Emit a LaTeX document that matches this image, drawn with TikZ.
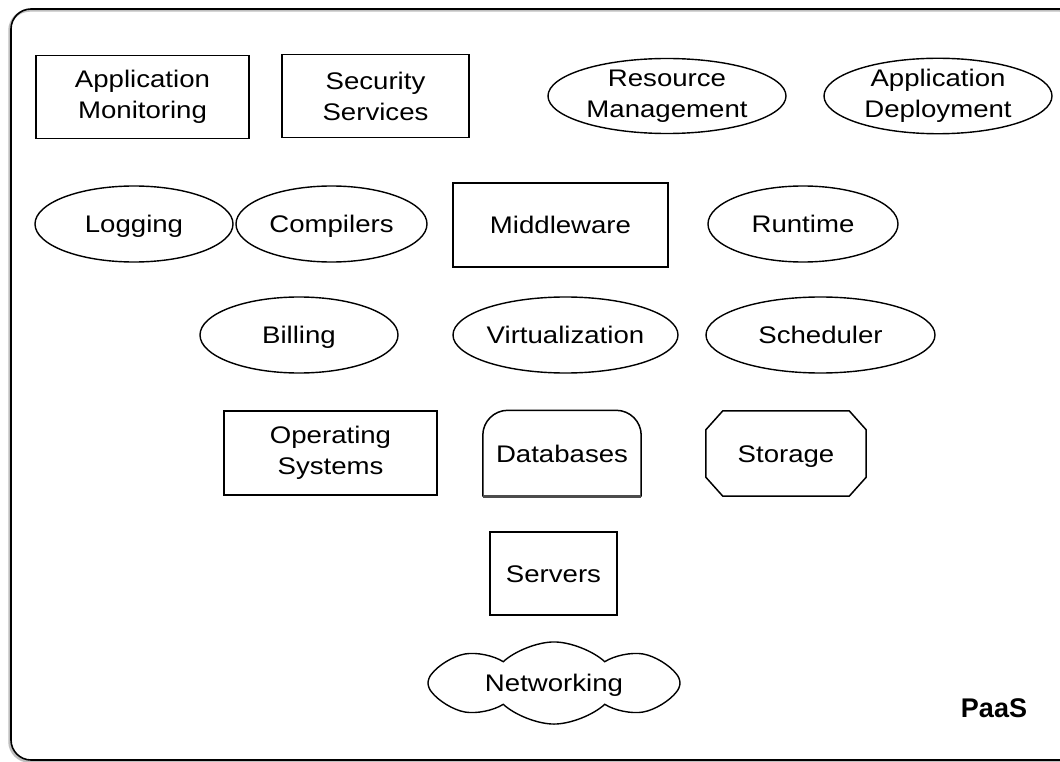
\documentclass[tikz,border=0pt]{standalone}
\usepackage{fontspec}
\setmainfont{Liberation Sans}[FakeStretch=1.15]
\newfontfamily\paasfont{Liberation Sans}
\usepackage{tikz}
\usetikzlibrary{shapes.geometric, shapes.symbols}

\begin{document}
\begin{tikzpicture}[
    x=1pt, y=-1pt,
    every node/.style={font=\fontsize{24}{31}\selectfont, align=center, inner sep=0pt},
    box/.style={draw, line width=1.5pt, minimum height=83pt},
    oval/.style={draw, ellipse, line width=1.4pt, minimum height=76pt},
    oneline/.style={text height=17pt, text depth=0pt},
    frame/.style={draw, line width=1.6pt, rounded corners=20pt}
]
\path[use as bounding box] (0,0) rectangle (1060,762);
\begin{scope}
\clip (0,0) rectangle (1060,762);
\draw[black!25, line width=2.5pt, rounded corners=20pt] (9.5,10.5) rectangle (1080,761.5);
\draw[frame] (11,9) rectangle (1080,760);
\end{scope}

% top row
\node[box, minimum width=213pt] (appmon) at (142.5,97) {Application\\Monitoring};
\node[box, minimum width=187pt] (secsvc) at (375.5,96) {Security\\Services};
\node[oval, minimum width=238pt, minimum height=75pt] (resmgmt) at (667,96) {Resource\\Management};
\node[oval, minimum width=228pt, minimum height=75pt] (appdep) at (938,96) {Application\\Deployment};

% second row
\node[oval, oneline, minimum width=198pt] (logging) at (134,224) {Logging};
\node[oval, oneline, minimum width=191pt] (compilers) at (331.5,224) {Compilers};
\node[box, oneline, minimum width=215pt, minimum height=84pt] (middleware) at (560.5,225) {Middleware};
\node[oval, oneline, minimum width=190pt] (runtime) at (803,224) {Runtime};

% third row
\node[oval, oneline, minimum width=198pt] (billing) at (299,335) {Billing};
\node[oval, oneline, minimum width=225pt] (virt) at (565.5,335) {Virtualization};
\node[oval, oneline, minimum width=229pt] (scheduler) at (820.5,335) {Scheduler};

% fourth row
\node[box, minimum width=213pt, minimum height=84pt] (os) at (330.5,453) {Operating\\Systems};
\node[oneline, minimum width=158pt, minimum height=86pt] (db) at (562,453.5) {Databases};
\draw[line width=1.5pt, rounded corners=25pt] (db.south west) -- (db.north west) -- (db.north east) -- (db.south east);
\draw[black!70, line width=3pt] (db.south west) -- (db.south east);
\node[oneline, minimum width=160pt, minimum height=85pt] (storage) at (786,453.5) {Storage};
\draw[line width=1.5pt] ([xshift=17pt]storage.north west) -- ([xshift=-17pt]storage.north east)
    -- ([yshift=-19pt]storage.north east) -- ([yshift=19pt]storage.south east)
    -- ([xshift=-17pt]storage.south east) -- ([xshift=17pt]storage.south west)
    -- ([yshift=19pt]storage.south west) -- ([yshift=-19pt]storage.north west) -- cycle;

% bottom
\node[box, oneline, minimum width=127pt] (servers) at (553.5,573.5) {Servers};
\node[draw, cloud, oneline, cloud puffs=8, cloud puff arc=85, aspect=3.4, line width=1.4pt,
      minimum width=252pt, minimum height=75pt] (networking) at (554,683) {Networking};

\node[font=\paasfont\bfseries\fontsize{27}{27}\selectfont] (paas) at (994,708) {PaaS};
\end{tikzpicture}
\end{document}
